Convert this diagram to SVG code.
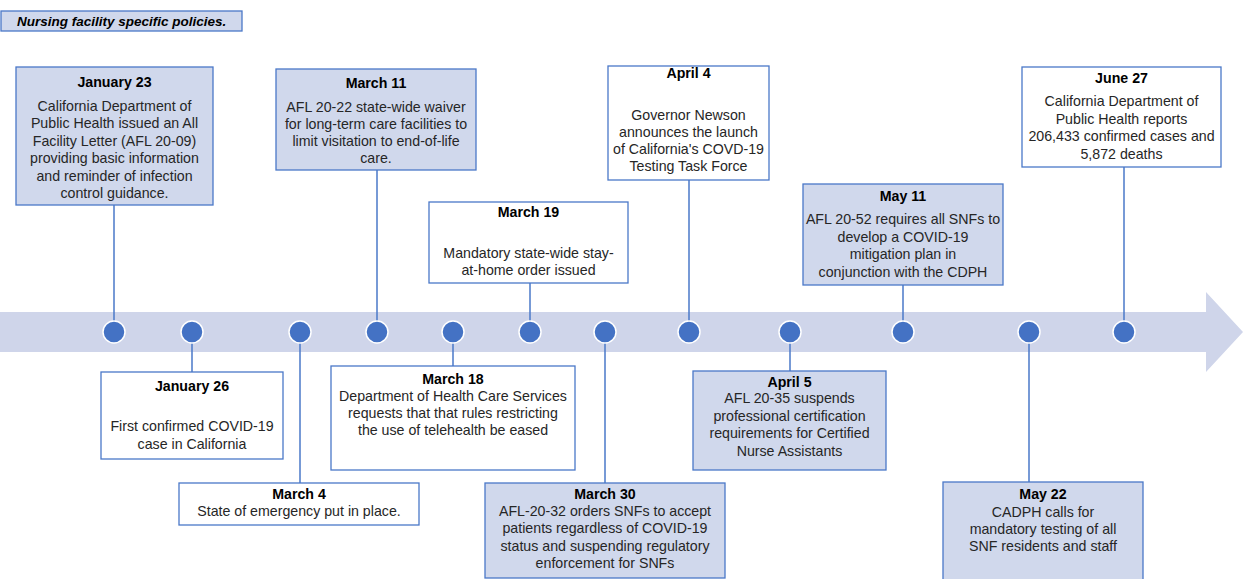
<svg xmlns="http://www.w3.org/2000/svg" width="1243" height="579" viewBox="0 0 1243 579">
<style>
text{font-family:"Liberation Sans",Arial,sans-serif;font-size:14.2px;fill:#262626;text-anchor:middle}
.t{font-weight:bold;fill:#000}
.f{fill:#d0d8ec;stroke:#4a78c8;stroke-width:1.3}
.w{fill:#fff;stroke:#4a78c8;stroke-width:1.3}
.c{stroke:#4a78c8;stroke-width:1.5;fill:none}
.d{fill:#4472c4;stroke:#fff;stroke-width:1.5}
</style>
<rect width="1243" height="579" fill="#fff"/>
<g id="legend">
<rect x="1" y="11" width="241" height="20" class="f"/>
<text x="17" y="25.5" style="font-size:13.5px;font-style:italic;font-weight:bold;fill:#000;text-anchor:start">Nursing facility specific policies.</text>
</g>
<g id="timeline">
<polygon points="0,312 1206,312 1206,292 1243,332 1206,372 1206,352 0,352" fill="#cfd5ea"/>
</g>
<g id="connectors">
<line x1="114" y1="205" x2="114" y2="332" class="c"/>
<line x1="377" y1="170" x2="377" y2="332" class="c"/>
<line x1="689" y1="180" x2="689" y2="332" class="c"/>
<line x1="1124" y1="167" x2="1124" y2="332" class="c"/>
<line x1="530" y1="283" x2="530" y2="332" class="c"/>
<line x1="903" y1="285" x2="903" y2="332" class="c"/>
<line x1="192" y1="332" x2="192" y2="372" class="c"/>
<line x1="453" y1="332" x2="453" y2="366" class="c"/>
<line x1="300" y1="332" x2="300" y2="483" class="c"/>
<line x1="605" y1="332" x2="605" y2="483" class="c"/>
<line x1="790" y1="332" x2="790" y2="371" class="c"/>
<line x1="1029" y1="332" x2="1029" y2="482" class="c"/>
</g>
<g id="dots">
<circle cx="114" cy="332" r="11" class="d"/>
<circle cx="192" cy="332" r="11" class="d"/>
<circle cx="300" cy="332" r="11" class="d"/>
<circle cx="377" cy="332" r="11" class="d"/>
<circle cx="453" cy="332" r="11" class="d"/>
<circle cx="530" cy="332" r="11" class="d"/>
<circle cx="605" cy="332" r="11" class="d"/>
<circle cx="689" cy="332" r="11" class="d"/>
<circle cx="790" cy="332" r="11" class="d"/>
<circle cx="903" cy="332" r="11" class="d"/>
<circle cx="1029" cy="332" r="11" class="d"/>
<circle cx="1124" cy="332" r="11" class="d"/>
</g>
<g id="jan23">
<rect x="16" y="67" width="197" height="138" class="f"/>
<text x="114.5" y="87" class="t">January 23</text>
<text x="114.5" y="111">California Department of</text>
<text x="114.5" y="128">Public Health issued an All</text>
<text x="114.5" y="146">Facility Letter (AFL 20-09)</text>
<text x="114.5" y="163">providing basic information</text>
<text x="114.5" y="181">and reminder of infection</text>
<text x="114.5" y="198">control guidance.</text>
</g>
<g id="mar11">
<rect x="276" y="69" width="200" height="101" class="f"/>
<text x="376" y="88" class="t">March 11</text>
<text x="376" y="112">AFL 20-22 state-wide waiver</text>
<text x="376" y="129">for long-term care facilities to</text>
<text x="376" y="146">limit visitation to end-of-life</text>
<text x="376" y="163">care.</text>
</g>
<g id="apr4">
<rect x="608" y="66" width="161" height="114" class="w"/>
<text x="688.5" y="78" class="t">April 4</text>
<text x="688.5" y="120">Governor Newson</text>
<text x="688.5" y="137">announces the launch</text>
<text x="688.5" y="154">of California's COVD-19</text>
<text x="688.5" y="171">Testing Task Force</text>
</g>
<g id="jun27">
<rect x="1022" y="67" width="199" height="100" class="w"/>
<text x="1121.5" y="83" class="t">June 27</text>
<text x="1121.5" y="106">California Department of</text>
<text x="1121.5" y="124">Public Health reports</text>
<text x="1121.5" y="141">206,433 confirmed cases and</text>
<text x="1121.5" y="159">5,872 deaths</text>
</g>
<g id="mar19">
<rect x="429" y="202" width="199" height="81" class="w"/>
<text x="528.5" y="217" class="t">March 19</text>
<text x="528.5" y="258">Mandatory state-wide stay-</text>
<text x="528.5" y="275">at-home order issued</text>
</g>
<g id="may11">
<rect x="803" y="184" width="200" height="101" class="f"/>
<text x="903" y="201" class="t">May 11</text>
<text x="903" y="224">AFL 20-52 requires all SNFs to</text>
<text x="903" y="242">develop a COVID-19</text>
<text x="903" y="259">mitigation plan in</text>
<text x="903" y="277">conjunction with the CDPH</text>
</g>
<g id="jan26">
<rect x="101" y="372" width="182" height="87" class="w"/>
<text x="192" y="391" class="t">January 26</text>
<text x="192" y="431">First confirmed COVID-19</text>
<text x="192" y="449">case in California</text>
</g>
<g id="mar18">
<rect x="331" y="366" width="244" height="104" class="w"/>
<text x="453" y="384" class="t">March 18</text>
<text x="453" y="401">Department of Health Care Services</text>
<text x="453" y="418">requests that that rules restricting</text>
<text x="453" y="435">the use of telehealth be eased</text>
</g>
<g id="mar4">
<rect x="179" y="483" width="240" height="42" class="w"/>
<text x="299" y="499" class="t">March 4</text>
<text x="299" y="516">State of emergency put in place.</text>
</g>
<g id="mar30">
<rect x="485" y="483" width="240" height="95" class="f"/>
<text x="605" y="499" class="t">March 30</text>
<text x="605" y="516">AFL-20-32 orders SNFs to accept</text>
<text x="605" y="533">patients regardless of COVID-19</text>
<text x="605" y="551">status and suspending regulatory</text>
<text x="605" y="568">enforcement for SNFs</text>
</g>
<g id="apr5">
<rect x="693" y="371" width="193" height="99" class="f"/>
<text x="789.5" y="387" class="t">April 5</text>
<text x="789.5" y="403">AFL 20-35 suspends</text>
<text x="789.5" y="421">professional certification</text>
<text x="789.5" y="438">requirements for Certified</text>
<text x="789.5" y="456">Nurse Assistants</text>
</g>
<g id="may22">
<rect x="943" y="482" width="200" height="100" class="f"/>
<text x="1043" y="499" class="t">May 22</text>
<text x="1043" y="517">CADPH calls for</text>
<text x="1043" y="534">mandatory testing of all</text>
<text x="1043" y="551">SNF residents and staff</text>
</g>
</svg>
